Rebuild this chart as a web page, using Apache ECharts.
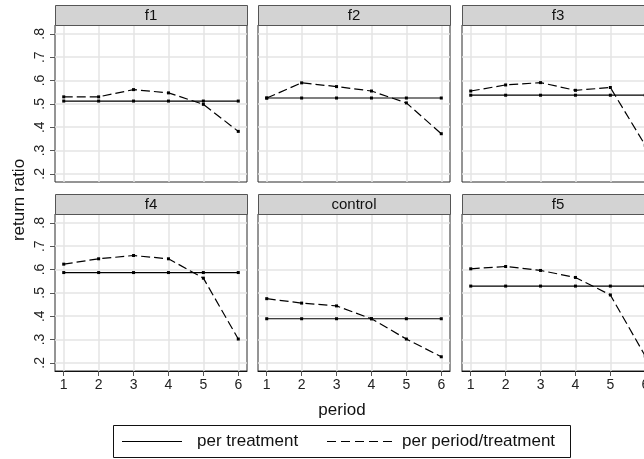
<!DOCTYPE html>
<html>
<head>
<meta charset="utf-8">
<script src="https://cdn.jsdelivr.net/npm/echarts@6/dist/echarts.min.js"></script>
<style>
  html, body { margin: 0; padding: 0; background: #fff; }
  #chart { width: 644px; height: 459px; }
</style>
</head>
<body>
<div id="chart"></div>
<script>
// Return ratio by period, one panel per treatment
const periods = [1, 2, 3, 4, 5, 6];
const panelNames = ['f1', 'f2', 'f3', 'f4', 'control', 'f5'];
const yTicks = [0.2, 0.3, 0.4, 0.5, 0.6, 0.7, 0.8];
const yTickLabels = ['.2', '.3', '.4', '.5', '.6', '.7', '.8'];

// pooled return ratio per treatment (flat line)
const perTreatment = [0.512, 0.525, 0.537, 0.587, 0.389, 0.529];

// return ratio per period within each treatment
const f1Period = [0.530, 0.530, 0.561, 0.547, 0.498, 0.382];
const f2Period = [0.525, 0.590, 0.574, 0.555, 0.504, 0.372];
const f3Period = [0.555, 0.581, 0.591, 0.558, 0.570, 0.322];
const f4Period = [0.623, 0.646, 0.660, 0.646, 0.563, 0.302];
const controlPeriod = [0.475, 0.456, 0.444, 0.389, 0.302, 0.226];
const f5Period = [0.603, 0.613, 0.596, 0.566, 0.491, 0.229];
const perPeriod = [f1Period, f2Period, f3Period, f4Period, controlPeriod, f5Period];

const FONT = "'Liberation Sans', Arial, Helvetica, sans-serif";
const colLeft = [55, 258, 462];
const rowTop = [25, 214];
const panelW = 192;
const panelH = 157;
const stripH = 20;

const grids = [], xAxes = [], yAxes = [], series = [], graphics = [];

panelNames.forEach((name, i) => {
  const row = Math.floor(i / 3), col = i % 3;
  const left = colLeft[col], top = rowTop[row];
  grids.push({
    left: left, top: top, width: panelW, height: panelH,
    show: true, borderColor: '#2a2a2a', borderWidth: 1, backgroundColor: '#fff',
    containLabel: false, outerBoundsMode: 'none'
  });
  const bottomRow = row === 1;
  const leftCol = col === 0;
  xAxes.push({
    type: 'value', gridIndex: i, min: 0.75, max: 6.25,
    axisLine: { show: bottomRow, onZero: false, lineStyle: { color: '#111', width: 1 } },
    axisTick: { show: bottomRow, customValues: periods, length: 5, lineStyle: { color: '#555' } },
    axisLabel: { show: bottomRow, customValues: periods, margin: 7, fontSize: 14,
                 color: '#222', fontFamily: FONT, formatter: v => String(v) },
    splitLine: { show: true, lineStyle: { color: '#e4e4e4', width: 1.5 } }
  });
  yAxes.push({
    type: 'value', gridIndex: i, min: 0.165, max: 0.838,
    axisLine: { show: false },
    axisTick: { show: leftCol, customValues: yTicks, length: 5, lineStyle: { color: '#555' } },
    axisLabel: { show: leftCol, customValues: yTicks, margin: 8, fontSize: 14, rotate: 90,
                 color: '#222', fontFamily: FONT,
                 formatter: v => yTickLabels[yTicks.findIndex(t => Math.abs(t - v) < 1e-6)] || '' },
    splitLine: { show: true, lineStyle: { color: '#e4e4e4', width: 1.5 } }
  });

  series.push({
    name: 'per treatment', type: 'line', xAxisIndex: i, yAxisIndex: i,
    data: periods.map(p => [p, perTreatment[i]]),
    symbol: 'rect', symbolSize: 3, showSymbol: true,
    itemStyle: { color: '#000' },
    lineStyle: { color: '#000', width: 1.2, type: 'solid' },
    silent: true, animation: false
  });
  series.push({
    name: 'per period/treatment', type: 'line', xAxisIndex: i, yAxisIndex: i,
    data: periods.map((p, k) => [p, perPeriod[i][k]]),
    symbol: 'rect', symbolSize: 3, showSymbol: true,
    itemStyle: { color: '#000' },
    lineStyle: { color: '#000', width: 1.2, type: [9, 4] },
    silent: true, animation: false
  });

  // panel header strip
  graphics.push({
    type: 'rect', left: left, top: top - stripH, z: 10,
    shape: { width: panelW, height: stripH },
    style: { fill: '#d3d3d3', stroke: '#555', lineWidth: 1 }
  });
  graphics.push({
    type: 'text', x: left + panelW / 2, y: top - stripH / 2 + 0.5, z: 11,
    style: { text: name, fontSize: 15, fontFamily: FONT, fill: '#111',
             align: 'center', verticalAlign: 'middle' }
  });
});

// axis titles
graphics.push({
  type: 'text', x: 19, y: 200, rotation: Math.PI / 2,
  style: { text: 'return ratio', fontSize: 17, fontFamily: FONT, fill: '#111',
           align: 'center', verticalAlign: 'middle' }
});
graphics.push({
  type: 'text', x: 342, y: 410,
  style: { text: 'period', fontSize: 17, fontFamily: FONT, fill: '#111',
           align: 'center', verticalAlign: 'middle' }
});

// legend box
const legY = 441.5;
graphics.push({
  type: 'rect', x: 113.5, y: 425.5,
  shape: { width: 457, height: 32 },
  style: { fill: '#fff', stroke: '#111', lineWidth: 1 }
});
graphics.push({
  type: 'line', shape: { x1: 122, y1: legY, x2: 182, y2: legY },
  style: { stroke: '#000', lineWidth: 1.2 }
});
graphics.push({
  type: 'text', x: 197, y: legY,
  style: { text: 'per treatment', fontSize: 17, fontFamily: FONT, fill: '#111',
           align: 'left', verticalAlign: 'middle' }
});
graphics.push({
  type: 'line', shape: { x1: 327, y1: legY, x2: 392, y2: legY },
  style: { stroke: '#000', lineWidth: 1.2, lineDash: [9, 5] }
});
graphics.push({
  type: 'text', x: 402, y: legY,
  style: { text: 'per period/treatment', fontSize: 17, fontFamily: FONT, fill: '#111',
           align: 'left', verticalAlign: 'middle' }
});

const chart = echarts.init(document.getElementById('chart'), null, { renderer: 'canvas' });
chart.setOption({
  animation: false,
  backgroundColor: '#fff',
  textStyle: { fontFamily: FONT },
  grid: grids,
  xAxis: xAxes,
  yAxis: yAxes,
  series: series,
  graphic: graphics
});
</script>
</body>
</html>
